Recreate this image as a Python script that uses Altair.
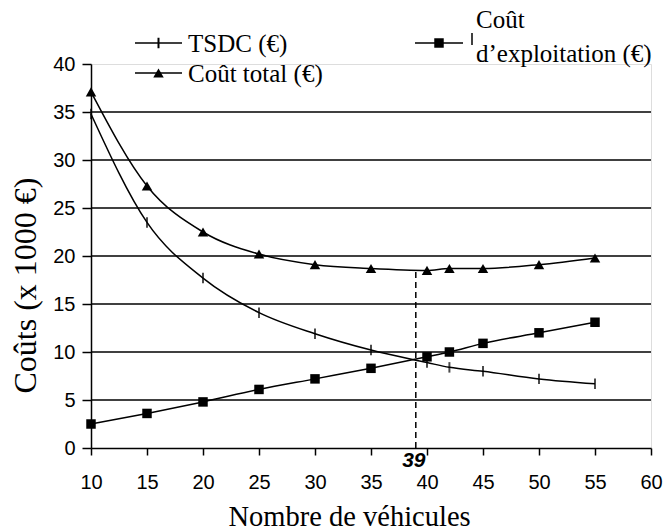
import altair as alt
import pandas as pd

# ---- data ----
vehicles = [10, 15, 20, 25, 30, 35, 40, 42, 45, 50, 55]
tsdc = [34.8, 23.5, 17.7, 14.1, 11.9, 10.2, 8.9, 8.4, 8.0, 7.2, 6.7]
exploitation = [2.5, 3.6, 4.8, 6.1, 7.2, 8.3, 9.5, 10.0, 10.9, 12.0, 13.1]
total = [37.1, 27.3, 22.5, 20.2, 19.1, 18.7, 18.5, 18.7, 18.7, 19.1, 19.8]
opt_n = [39]
opt_cost = [18.5]
grid_values = [5, 10, 15, 20, 25, 30, 35]
x_ticks = list(range(10, 61, 5))
y_ticks = list(range(0, 41, 5))

SERIF = "Liberation Serif"
SANS = "Liberation Sans"

rows = []
for name, vals in [("TSDC", tsdc), ("Exploitation", exploitation), ("Total", total)]:
    for v, c in zip(vehicles, vals):
        rows.append({"n": v, "cost": c, "series": name})
df = pd.DataFrame(rows)

OX, OY = 91, 64
W, H = 560, 384
xs = alt.Scale(domain=[10, 60], nice=False, zero=False)
ys = alt.Scale(domain=[0, 40], nice=False)

x_axis = alt.Axis(
    values=x_ticks, title="Nombre de véhicules", grid=False, labelFlush=False,
    labelFont=SANS, labelFontSize=20, labelColor="black", labelPadding=17,
    tickColor="black", tickSize=7, tickWidth=1.5,
    domainColor="black", domainWidth=1.5,
    titleFont=SERIF, titleFontSize=28.5, titleFontWeight="normal", titleColor="black",
    titleAlign="left", titleBaseline="alphabetic", titleX=228 - OX, titleY=525 - OY - H,
)
y_axis = alt.Axis(
    values=y_ticks, title="Coûts (x 1000 €)", grid=False, labelFlush=False,
    labelFont=SANS, labelFontSize=20, labelColor="black", labelPadding=7,
    tickColor="black", tickSize=9, tickWidth=1.5,
    domainColor="black", domainWidth=1.5,
    titleFont=SERIF, titleFontSize=32, titleFontWeight="normal", titleColor="black",
    titleAlign="left", titleBaseline="alphabetic", titleAngle=270,
    titleX=35 - OX, titleY=393 - OY,
)

base = alt.Chart(df)
lines = base.mark_line(color="black", strokeWidth=1.5, interpolate="monotone").encode(
    x=alt.X("n:Q", scale=xs, axis=x_axis),
    y=alt.Y("cost:Q", scale=ys, axis=y_axis),
    detail="series:N",
)

grid = alt.Chart(pd.DataFrame({"g": grid_values})).mark_rule(
    color="black", strokeWidth=1.5
).encode(y=alt.Y("g:Q", scale=ys, axis=y_axis))

tick_path = "M0,-1L0,1"
pts_tsdc = alt.Chart(df[df.series == "TSDC"]).mark_point(
    shape=tick_path, color="black", strokeWidth=2, size=110, filled=False
).encode(x=alt.X("n:Q", scale=xs), y=alt.Y("cost:Q", scale=ys))
pts_exp = alt.Chart(df[df.series == "Exploitation"]).mark_point(
    shape="square", color="black", size=90, filled=True, opacity=1
).encode(x=alt.X("n:Q", scale=xs), y=alt.Y("cost:Q", scale=ys))
pts_tot = alt.Chart(df[df.series == "Total"]).mark_point(
    shape="triangle-up", color="black", size=110, filled=True, opacity=1
).encode(x=alt.X("n:Q", scale=xs), y=alt.Y("cost:Q", scale=ys))

opt_df = pd.DataFrame({"n": opt_n, "cost": opt_cost, "zero": [0], "lab": [str(opt_n[0])]})
opt_rule = alt.Chart(opt_df).mark_rule(color="black", strokeWidth=1.5, strokeDash=[6, 4]).encode(
    x=alt.X("n:Q", scale=xs), y=alt.Y("zero:Q", scale=ys), y2="cost:Q"
)
opt_text = alt.Chart(opt_df).mark_text(
    font=SANS, fontSize=21, fontWeight="bold", fontStyle="italic", color="black",
    baseline="alphabetic", dy=19, dx=-2,
).encode(x=alt.X("n:Q", scale=xs), y=alt.Y("zero:Q", scale=ys), text="lab:N")

# ---- hand-built legend (pixel positions relative to plot origin) ----
def lx(px):
    return px - OX
def ly(py):
    return py - OY

one = pd.DataFrame({"a": [0]})
leg_layers = []
for (y0, x0, x1, shp, sz, filled) in [
    (43, 135, 182, tick_path, 110, False),
    (73, 135, 182, "triangle-up", 110, True),
    (43, 415, 463, "square", 90, True),
]:
    leg_layers.append(
        alt.Chart(one).mark_rule(color="black", strokeWidth=1.5).encode(
            x=alt.value(lx(x0)), x2=alt.value(lx(x1)), y=alt.value(ly(y0))
        )
    )
    leg_layers.append(
        alt.Chart(one).mark_point(
            shape=shp, color="black", size=sz, filled=filled, opacity=1, strokeWidth=2
        ).encode(x=alt.value(lx((x0 + x1) / 2)), y=alt.value(ly(y0)))
    )
# tiny bar before the wrapped label
leg_layers.append(
    alt.Chart(one).mark_rule(color="black", strokeWidth=1.5).encode(
        x=alt.value(lx(472)), y=alt.value(ly(33)), y2=alt.value(ly(45))
    )
)
for (txt, px, py) in [
    ("TSDC (€)", 188, 52),
    ("Coût total (€)", 188, 82),
    ("Coût", 476, 28),
    ("d’exploitation (€)", 476, 62),
]:
    leg_layers.append(
        alt.Chart(pd.DataFrame({"t": [txt]})).mark_text(
            font=SERIF, fontSize=25, color="black", align="left", baseline="alphabetic"
        ).encode(x=alt.value(lx(px)), y=alt.value(ly(py)), text="t:N")
    )

chart = alt.layer(lines, grid, pts_tsdc, pts_exp, pts_tot, opt_rule, opt_text, *leg_layers).properties(
    width=W, height=H,
    autosize=alt.AutoSizeParams(type="none"),
    padding={"left": OX, "top": OY, "right": 664 - OX - W, "bottom": 532 - OY - H},
).configure_view(stroke=None).configure(background="white")

chart.save("out.html", embed_options={"renderer": "svg", "actions": False})
